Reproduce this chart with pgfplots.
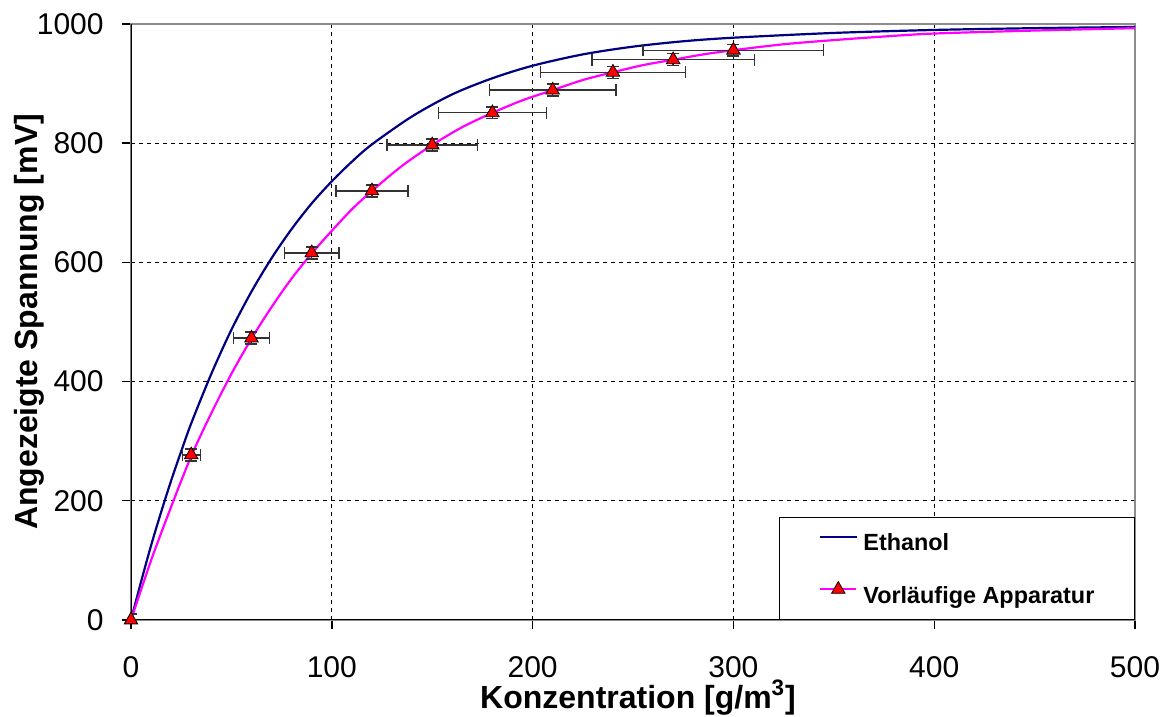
\documentclass[border=0pt]{standalone}
\usepackage{pgfplots}
\pgfplotsset{compat=1.18}
\usepackage{fontspec}
\setmainfont{Liberation Sans}
\definecolor{navyline}{HTML}{000080}
\definecolor{magline}{HTML}{FF00FF}
\definecolor{trired}{HTML}{FF0000}
\definecolor{errgray}{HTML}{333333}
\begin{document}
\begin{tikzpicture}
\path[use as bounding box] (-65.5pt,-48.5pt) rectangle (521pt,310pt);
\begin{axis}[
  scale only axis, width=502pt, height=298pt,
  xmin=0, xmax=500, ymin=0, ymax=1000,
  xtick={0,100,200,300,400,500}, ytick={0,200,400,600,800,1000},
  tick align=outside, major tick length=4.5pt,
  xtick pos=bottom, ytick pos=left,
  tick style={black, line width=0.7pt},
  grid=major,
  major grid style={black, line width=0.6pt, dash pattern=on 2pt off 2pt},
  axis line style={black!45, line width=0.8pt},
  ticklabel style={font=\fontsize{15}{18}\selectfont},
  /pgf/number format/assume math mode=true,
  /pgf/number format/1000 sep={},
  xticklabel style={inner sep=0pt, anchor=north, yshift=-13.5pt},
  yticklabel style={inner sep=0pt, anchor=east, xshift=-9pt},
  xlabel={Konzentration [g/m\textsuperscript{3}]},
  ylabel={Angezeigte Spannung [mV]},
  label style={font=\bfseries\fontsize{16}{19}\selectfont},
  xlabel style={at={(axis description cs:0.505,-0.1477)}, anchor=base},
  ylabel style={at={(axis description cs:-0.0936,0.5)}, anchor=base},
  legend style={draw=black, line width=0.6pt, at={(1,0)}, anchor=south east,
    inner xsep=20pt, inner ysep=5.5pt, row sep=12.5pt, column sep=3pt,
    font=\bfseries\fontsize{11.7}{13}\selectfont,
    nodes={inner sep=0pt, text height=8.3pt, text depth=2.5pt}},
  legend cell align=left,
  legend image code/.code={\path[draw=none,fill=none] (0pt,0pt) -- (18pt,8.3pt);
    \draw[mark repeat=2,mark phase=2,#1] plot coordinates {(0pt,4.1pt) (9pt,4.1pt) (18pt,4.1pt)};},
]
\addplot[navyline, line width=1.1pt, smooth] coordinates {
(0,0) (5,64) (10,125) (15,181) (20,234) (25,283) (30,330) (40,413) (50,487)
(60,551) (70,607) (80,656) (90,699) (100,736) (110,769) (120,798) (140,845)
(160,882) (180,909) (200,930) (225,949) (250,962) (275,971) (300,977)
(350,985) (400,990) (450,993) (500,995)};
\addlegendentry{Ethanol}
\addplot[magline, line width=1.1pt, smooth, forget plot] coordinates {
(0,0) (10,100) (20,190) (30,275) (40,347) (50,413) (60,472) (70,525) (80,573)
(90,615) (100,653) (110,689) (120,720) (135,762) (150,797) (165,827) (180,851)
(195,872) (210,889) (225,906) (240,919) (255,931) (270,940) (285,949) (300,956)
(325,966) (350,973) (375,979) (400,984) (450,989) (500,993)};
\addplot[forget plot, only marks, mark=triangle*, mark size=3.9pt,
  mark options={fill=trired, draw=black, line width=0.4pt},
  error bars/.cd, x dir=both, x explicit, y dir=both, y explicit,
  error bar style={errgray, line width=0.7pt},
  error mark options={errgray, line width=0.7pt, mark size=3pt, rotate=90}]
  coordinates {
(0,0) +- (0,10)
(30,277) +- (4.5,10)
(60,473) +- (9,10)
(90,616) +- (13.5,10)
(120,720) +- (18,10)
(150,797) +- (22.5,10)
(180,851) +- (27,10)
(210,889) +- (31.5,10)
(240,919) +- (36,10)
(270,940) +- (40.5,10)
(300,956) +- (45,10)};
\addlegendimage{magline, line width=1.1pt, mark=triangle*, mark size=3.9pt, mark options={fill=trired, draw=black, line width=0.4pt}}
\addlegendentry{Vorläufige Apparatur}
\draw[black, line width=1pt] (rel axis cs:0,1) -- (rel axis cs:0,0) -- (rel axis cs:1,0);
\end{axis}
\end{tikzpicture}
\end{document}
